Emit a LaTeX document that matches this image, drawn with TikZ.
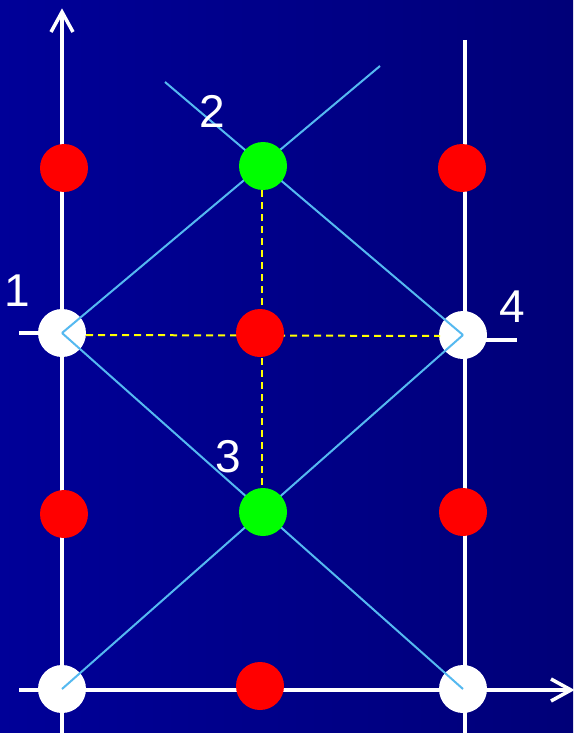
\documentclass[tikz,border=0pt]{standalone}
\usepackage{fontspec}
\setmainfont{Liberation Sans}
\definecolor{bgl}{RGB}{0,0,152}
\definecolor{bgr}{RGB}{0,0,120}
\definecolor{lblue}{RGB}{85,185,240}
\definecolor{ylw}{RGB}{255,255,0}
\definecolor{grn}{RGB}{0,255,0}
\definecolor{rd}{RGB}{255,0,0}
\begin{document}
\begin{tikzpicture}[x=1pt,y=-1pt,
  dot/.style={circle,minimum size=48pt,inner sep=0pt,draw=none},
  wdot/.style={dot,fill=white},
  rdot/.style={dot,fill=rd},
  gdot/.style={dot,fill=grn},
  axis/.style={white,line width=3.5pt},
  chev/.style={white,line width=3.5pt,line join=miter,line cap=butt},
  diag/.style={lblue,line width=2pt},
  ydash/.style={ylw,line width=2pt,dash pattern=on 7pt off 5pt},
  lab/.style={text=white,font=\fontsize{46}{46}\selectfont,inner sep=0pt}]
\shade[left color=bgl,right color=bgr] (0,0) rectangle (573,733);
\useasboundingbox (0,0) rectangle (573,733);
% axes
\coordinate (ltop) at (62,14);
\coordinate (lbot) at (62,735);
\coordinate (rtop) at (465,40);
\coordinate (rbot) at (465,735);
\coordinate (bl) at (19,690);
\coordinate (br) at (569,690);
\draw[axis] (lbot) -- (ltop);
\draw[chev] (51,32) -- (62,12) -- (73,32);
\draw[axis] (rtop) -- (rbot);
\draw[axis] (bl) -- (br);
\draw[chev] (551,679) -- (571,690) -- (551,701);
% ticks
\coordinate (t1a) at (19,333);
\coordinate (t1b) at (62,333);
\coordinate (t4a) at (465,340);
\coordinate (t4b) at (517,340);
\draw[axis] (t1a) -- (t1b);
\draw[axis] (t4a) -- (t4b);
% nodes
\node[wdot] (w1) at (62,333) {};
\node[wdot] (w4) at (463,335) {};
\node[wdot] (wbl) at (62,689) {};
\node[wdot] (wbr) at (463,689) {};
% yellow dashed
\coordinate (ya) at (86,335);
\coordinate (yb) at (440,336);
\coordinate (g2b) at (262,190);
\coordinate (g3t) at (262,488);
\draw[ydash] (ya) -- (yb);
\draw[ydash] (g2b) -- (g3t);
% diagonals
\coordinate (a) at (165,82);
\coordinate (b) at (380,66);
\draw[diag] (a) -- (w4.center);
\draw[diag] (b) -- (w1.center);
\draw[diag] (w1.center) -- (wbr.center);
\draw[diag] (w4.center) -- (wbl.center);
% red and green
\node[rdot] (r1) at (64,168) {};
\node[rdot] (r2) at (462,168) {};
\node[rdot] (rc) at (260,333) {};
\node[rdot] (r3) at (64,514) {};
\node[rdot] (r4) at (463,512) {};
\node[rdot] (r5) at (260,686) {};
\node[gdot] (g2) at (263,166) {};
\node[gdot] (g3) at (263,512) {};
% labels
\node[lab] (l1) at (17,291) {1};
\node[lab] (l2) at (212,111) {2};
\node[lab] (l3) at (228,457) {3};
\node[lab] (l4) at (512,307) {4};
\end{tikzpicture}
\end{document}
